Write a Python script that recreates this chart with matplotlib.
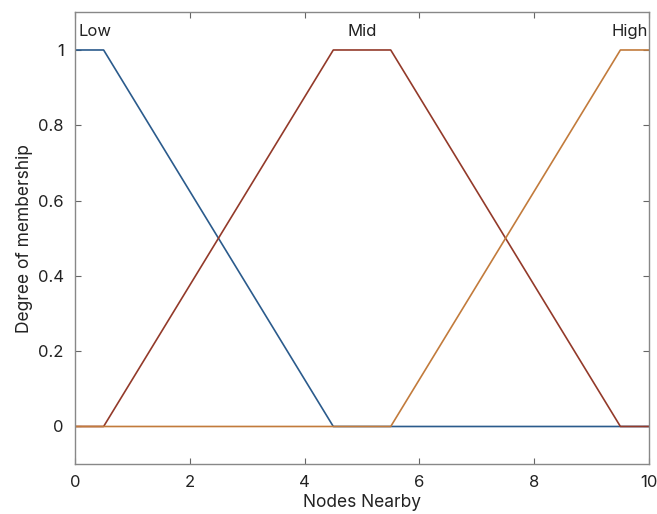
import matplotlib
matplotlib.use("Agg")
import matplotlib.pyplot as plt

plt.rcParams['font.family'] = ['Inter', 'DejaVu Sans']

# Membership function breakpoints (x) and degrees (y)
low_x = [0, 0.5, 4.5, 10]
low_y = [1, 1, 0, 0]
mid_x = [0, 0.5, 4.5, 5.5, 9.5, 10]
mid_y = [0, 0, 1, 1, 0, 0]
high_x = [0, 5.5, 9.5, 10]
high_y = [0, 0, 1, 1]

names = ["Low", "Mid", "High"]
name_x = [0.07, 5.0, 9.97]
name_y = [1.05, 1.05, 1.05]
name_ha = ["left", "center", "right"]

xticks = [0, 2, 4, 6, 8, 10]
yticks = [0, 0.2, 0.4, 0.6, 0.8, 1]
ytick_labels = ["0", "0.2", "0.4", "0.6", "0.8", "1"]

fig = plt.figure(figsize=(6.57, 5.14), dpi=100)
ax = fig.add_axes([0.114, 0.097, 0.874, 0.879])

ax.plot(low_x, low_y, color="#2b5b8c", lw=1.2)
ax.plot(mid_x, mid_y, color="#933a2a", lw=1.2)
ax.plot(high_x, high_y, color="#c27b3c", lw=1.2)

for n, x, y, ha in zip(names, name_x, name_y, name_ha):
    ax.text(x, y, n, ha=ha, va="center", fontsize=12, color="#222222")

ax.set_xlim(0, 10)
ax.set_ylim(-0.1, 1.1)
ax.set_xticks(xticks)
ax.set_yticks(yticks)
ax.set_yticklabels(ytick_labels)
ax.tick_params(direction="in", top=True, right=True, length=4, width=0.8,
               color="#666666", labelsize=12, labelcolor="#222222", pad=8)
for s in ax.spines.values():
    s.set_color("#888888")
    s.set_linewidth(1.0)

ax.set_xlabel("Nodes Nearby", fontsize=12.5, color="#222222", labelpad=3)
ax.set_ylabel("Degree of membership", fontsize=12.5, color="#222222", labelpad=3)

fig.savefig("out.png", dpi=100)
